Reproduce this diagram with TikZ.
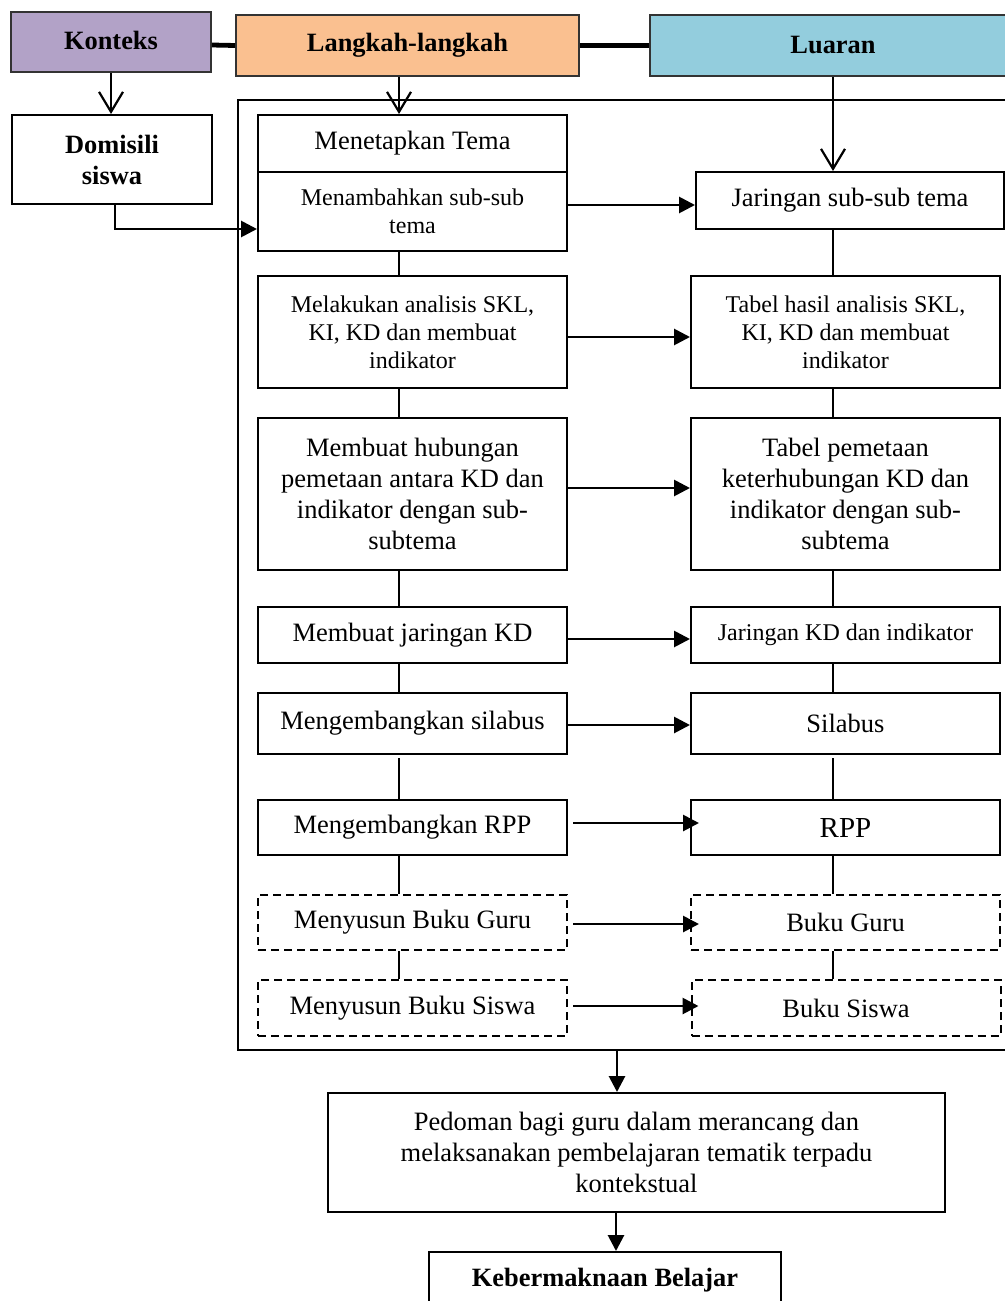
\documentclass[tikz,border=0pt]{standalone}
\usepackage{fontspec}
\setmainfont{Liberation Serif}
\usetikzlibrary{arrows.meta}
\definecolor{ctxc}{HTML}{B2A2C7}
\definecolor{stpc}{HTML}{FAC090}
\definecolor{outc}{HTML}{93CDDD}
\newcommand{\fmainx}{\fontsize{13.25}{15.5}\selectfont}
\newcommand{\fsmallx}{\fontsize{12}{14}\selectfont}
\newcommand{\fheadx}{\fontsize{13.2}{15.5}\selectfont\bfseries}
\begin{document}
\begin{tikzpicture}[x=0.5pt,y=-0.5pt,
 bx/.style={draw, line width=1pt, inner sep=0pt, align=center, font=\fmainx},
 hd/.style={draw=black!80, line width=0.8pt, inner sep=0pt, align=center, font=\fheadx},
 dsh/.style={bx, dash pattern=on 4pt off 2.5pt},
 lcol/.style={minimum width=154.5pt},
 lnk/.style={line width=1pt},
 arr/.style={line width=1.4pt, -{Triangle[length=8pt,width=8pt]}},
 barb/.style={line width=1.1pt, -{Straight Barb[length=10pt,width=12pt]}},
 hlink/.style={line width=2.4pt}]
\useasboundingbox (0,0) rectangle (1005,1301);
\clip (0,0) rectangle (1005,1301);

% headers
\node[hd, fill=ctxc, minimum width=100pt, minimum height=30pt] (konteks) at (111,42) {\raisebox{1.5pt}{Konteks}};
\node[hd, fill=stpc, minimum width=171.5pt, minimum height=30.5pt] (langkah) at (407.5,45.5) {\raisebox{0.5pt}{Langkah-langkah}};
\node[hd, fill=outc, minimum width=183pt, minimum height=30.5pt] (luaran) at (833,45.5) {\raisebox{0.5pt}{Luaran}};
\draw[hlink] ([yshift=-1.5pt]konteks.east) -- (langkah.west);
\draw[hlink] (langkah.east) -- (luaran.west);

% context
\node[bx, font=\fheadx, minimum width=100pt, minimum height=44.5pt] (domisili) at (112,159.5) {Domisili\\siswa};

% frame
\node[draw, line width=1pt, minimum width=386pt, minimum height=475pt, inner sep=0pt] (frame) at (624,575) {};

% left column
\node[bx, lcol, minimum height=28.5pt] (menetapkan) at (412.5,143.5) {Menetapkan Tema};
\node[bx, lcol, minimum height=39.5pt, font=\fsmallx] (menambahkan) at (412.5,211.5) {Menambahkan sub-sub\\tema};
\node[bx, lcol, minimum height=56pt, font=\fsmallx] (melakukan) at (412.5,332) {Melakukan analisis SKL,\\KI, KD dan membuat\\indikator};
\node[bx, lcol, minimum height=76pt] (hubungan) at (412.5,494) {Membuat hubungan\\pemetaan antara KD dan\\indikator dengan sub-\\subtema};
\node[bx, lcol, minimum height=28pt] (jarkd) at (412.5,635) {Membuat jaringan KD};
\node[bx, lcol, minimum height=30.5pt] (silL) at (412.5,723.5) {Mengembangkan silabus};
\node[bx, lcol, minimum height=27.5pt] (rppL) at (412.5,827.5) {Mengembangkan RPP};
\node[dsh, lcol, minimum height=27.5pt] (guruL) at (412.5,922.5) {Menyusun Buku Guru};
\node[dsh, lcol, minimum height=28pt] (siswaL) at (412.5,1008) {Menyusun Buku Siswa};

% right column
\node[bx, minimum width=154pt, minimum height=28.5pt] (jarsub) at (850,200.5) {Jaringan sub-sub tema};
\node[bx, lcol, minimum height=56pt, font=\fsmallx] (tabelhasil) at (845.5,332) {Tabel hasil analisis SKL,\\KI, KD dan membuat\\indikator};
\node[bx, lcol, minimum height=76pt] (pemetaan) at (845.5,494) {Tabel pemetaan\\keterhubungan KD dan\\indikator dengan sub-\\subtema};
\node[bx, lcol, minimum height=28pt, font=\fsmallx] (jarkdind) at (845.5,635) {Jaringan KD dan indikator};
\node[bx, lcol, minimum height=30.5pt] (silR) at (845.5,723.5) {Silabus};
\node[bx, lcol, minimum height=27.5pt, font=\fontsize{14.5}{16}\selectfont] (rppR) at (845.5,827.5) {RPP};
\node[dsh, lcol, minimum height=27.5pt] (guruR) at (845.5,922.5) {Buku Guru};
\node[dsh, lcol, minimum height=28pt] (siswaR) at (846,1008) {Buku Siswa};

% bottom
\node[bx, minimum width=308.5pt, minimum height=59.5pt] (pedoman) at (636.5,1152.5) {Pedoman bagi guru dalam merancang dan\\melaksanakan pembelajaran tematik terpadu\\kontekstual};
\node[bx, font=\fheadx, minimum width=176pt, minimum height=28pt] (keber) at (605,1280) {Kebermaknaan Belajar};

% helper columns
\coordinate (lx) at (399,0);
\coordinate (rx) at (833,0);
\coordinate (fa) at (617,1050);
\coordinate (fb) at (616,0);

% open arrows
\draw[barb] (konteks.south) -- (konteks.south |- domisili.north);
\draw[barb] (lx |- langkah.south) -- (lx |- menetapkan.north);
\draw[barb] (luaran.south) -- (luaran.south |- jarsub.north);

% domisili to menambahkan
\draw[arr] ([xshift=1.5pt]domisili.south) |- ([yshift=-8.75pt]menambahkan.west);

% vertical links left
\draw[lnk] (lx |- menambahkan.south) -- (lx |- melakukan.north);
\draw[lnk] (lx |- melakukan.south) -- (lx |- hubungan.north);
\draw[lnk] (lx |- hubungan.south) -- (lx |- jarkd.north);
\draw[lnk] (lx |- jarkd.south) -- (lx |- silL.north);
\draw[lnk] ([yshift=-1.5pt]lx |- silL.south) -- (lx |- rppL.north);
\draw[lnk] (lx |- rppL.south) -- (lx |- guruL.north);
\draw[lnk] (lx |- guruL.south) -- (lx |- siswaL.north);

% vertical links right
\draw[lnk] (rx |- jarsub.south) -- (rx |- tabelhasil.north);
\draw[lnk] (rx |- tabelhasil.south) -- (rx |- pemetaan.north);
\draw[lnk] (rx |- pemetaan.south) -- (rx |- jarkdind.north);
\draw[lnk] (rx |- jarkdind.south) -- (rx |- silR.north);
\draw[lnk] ([yshift=-1.5pt]rx |- silR.south) -- (rx |- rppR.north);
\draw[lnk] (rx |- rppR.south) -- (rx |- guruR.north);
\draw[lnk] (rx |- guruR.south) -- (rx |- siswaR.north);

% horizontal arrows
\draw[arr] ([yshift=3.25pt]menambahkan.east) -- ([yshift=3.25pt]menambahkan.east -| jarsub.west);
\draw[arr] ([yshift=-2.5pt]melakukan.east) -- ([yshift=-2.5pt]melakukan.east -| tabelhasil.west);
\draw[arr] ([yshift=3pt]hubungan.east) -- ([yshift=3pt]hubungan.east -| pemetaan.west);
\draw[arr] ([yshift=-2pt]jarkd.east) -- ([yshift=-2pt]jarkd.east -| jarkdind.west);
\draw[arr] ([yshift=-0.75pt]silL.east) -- ([yshift=-0.75pt]silL.east -| silR.west);
\draw[arr] ([xshift=2.5pt,yshift=2.25pt]rppL.east) -- ([xshift=4.5pt,yshift=2.25pt]rppL.east -| rppR.west);
\draw[arr] ([xshift=2.5pt,yshift=-0.75pt]guruL.east) -- ([xshift=4.5pt,yshift=-0.75pt]guruL.east -| guruR.west);
\draw[arr] ([xshift=2.5pt,yshift=1pt]siswaL.east) -- ([xshift=4pt,yshift=1pt]siswaL.east -| siswaR.west);

% bottom arrows
\draw[arr] (fa) -- (fa |- pedoman.north);
\draw[arr] (fb |- pedoman.south) -- (fb |- keber.north);
\end{tikzpicture}
\end{document}
